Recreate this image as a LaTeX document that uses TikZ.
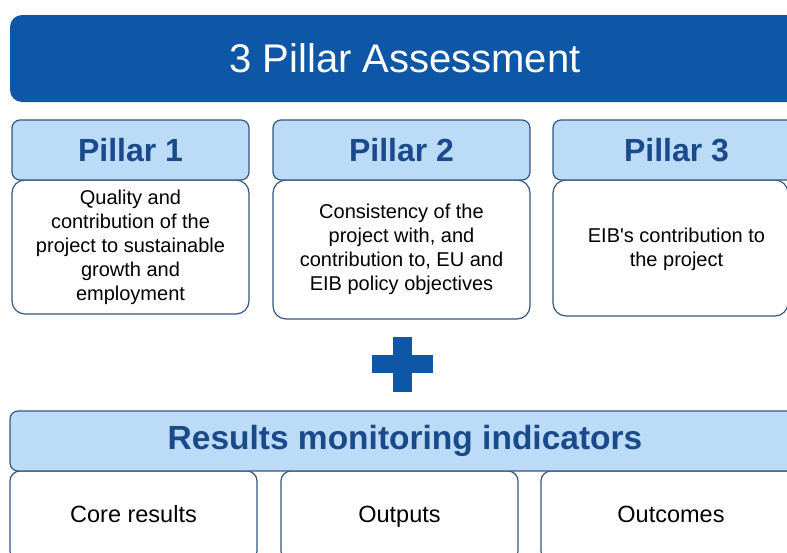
\documentclass[tikz,border=0pt]{standalone}
\usepackage{fontspec}
\setmainfont{Liberation Sans}
\usetikzlibrary{positioning}
\definecolor{eibblue}{RGB}{14,86,166}
\definecolor{pillarfill}{RGB}{187,219,246}
\definecolor{pillartext}{RGB}{26,74,138}
\definecolor{boxline}{RGB}{52,86,130}

\begin{document}
\begin{tikzpicture}[x=1pt,y=-1pt,
  titlebox/.style={fill=eibblue,rounded corners=12pt,minimum width=790pt,minimum height=87pt,
    text=white,font=\fontsize{40}{48}\selectfont},
  pillarhead/.style={draw=boxline,line width=1.2pt,fill=pillarfill,rounded corners=8pt,minimum height=60pt,
    text=pillartext,font=\bfseries\fontsize{32}{38}\selectfont},
  pillarbody/.style={draw=boxline,line width=1.2pt,fill=white,rounded corners=13pt,align=center,
    font=\fontsize{20}{24}\selectfont},
  resultbox/.style={draw=boxline,line width=1.2pt,fill=white,rounded corners=10pt,minimum height=90pt,
    text height=17pt,text depth=5pt,font=\fontsize{23.5}{28}\selectfont}]
  \useasboundingbox (0,0) rectangle (787,552);
  \clip (0,0) rectangle (787,552);
  \node[titlebox] (title) at (405,58.5) {3 Pillar Assessment};
  % pillar bodies first, headers on top
  \node[pillarbody,minimum width=237pt,minimum height=134pt] (body1) at (130.5,247)
    {Quality and\\contribution of the\\project to sustainable\\growth and\\employment};
  \node[pillarbody,minimum width=257pt,minimum height=139pt] (body2) at (401.5,249.5)
    {Consistency of the\\project with, and\\contribution to, EU and\\EIB policy objectives};
  \node[pillarbody,minimum width=235pt,minimum height=136pt] (body3) at (670.5,248) {};
  \node[font=\fontsize{20}{24}\selectfont,align=center] (text3) at (676.5,249)
    {EIB\textquotesingle s contribution to\\the project};
  \node[pillarhead,minimum width=237pt] (pillar1) at (130.5,150) {Pillar 1};
  \node[pillarhead,minimum width=257pt] (pillar2) at (401.5,150) {Pillar 2};
  \node[pillarhead,minimum width=247pt] (pillar3) at (676.5,150) {Pillar 3};
  % the plus
  \fill[eibblue] (393,337) rectangle (412,392);
  \fill[eibblue] (372,355) rectangle (433,373);
  \node[resultbox,minimum width=247pt] (core) at (133.5,516) {Core results};
  \node[resultbox,minimum width=237pt] (outputs) at (399.5,516) {Outputs};
  \node[resultbox,minimum width=260pt] (outcomes) at (671,516) {Outcomes};
  \node[pillarhead,minimum width=790pt,font=\bfseries\fontsize{33.5}{40}\selectfont] (results) at (405,441)
    {Results monitoring indicators};
\end{tikzpicture}
\end{document}
